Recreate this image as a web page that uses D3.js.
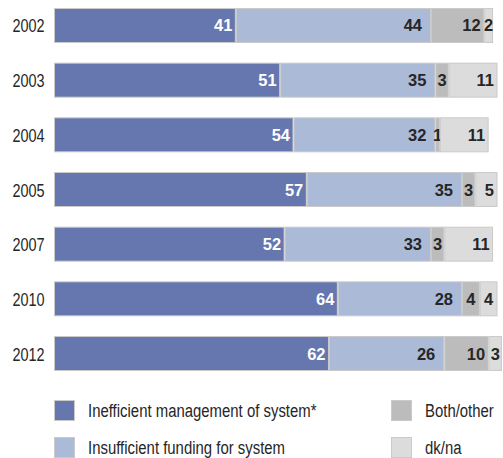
<!DOCTYPE html>
<html><head><meta charset="utf-8">
<script src="https://cdn.jsdelivr.net/npm/d3@7/dist/d3.min.js"></script>
<style>body{margin:0;background:#fff}svg{display:block}</style>
</head><body><svg id="c" width="503" height="458"></svg>
<script>
const years = ["2002","2003","2004","2005","2007","2010","2012"];
const seriesNames = ["Inefficient management of system*","Insufficient funding for system","Both/other","dk/na"];
const management = [41,51,54,57,52,64,62];
const funding    = [44,35,32,35,33,28,26];
const bothOther  = [12,3,1,3,3,4,10];
const dkna       = [2,11,11,5,11,4,3];
const colors = ["#6577ae","#abbad7","#bcbcbc","#dcdcdc"];

const svg = d3.select("#c");
const font = "'Liberation Sans',Arial,sans-serif";
const x = d3.scaleLinear().domain([0,100]).range([54,497.5]);
const y = d3.scaleBand().domain(years).range([8,371]).paddingInner(0.36).paddingOuter(0);

const rows = years.map((yr,i)=>({year:yr, vals:[management[i],funding[i],bothOther[i],dkna[i]]}));
const stack = d3.stack().keys([0,1,2,3]).value((d,k)=>d.vals[k]);
const layers = stack(rows);

// condensed-looking text: translate then horizontal squeeze
function narrow(sel, sx){
  sel.attr("transform", function(){
    const tx=+this.getAttribute("data-x"), ty=+this.getAttribute("data-y");
    return `translate(${tx},${ty}) scale(${sx},1)`;
  });
}

layers.forEach((layer,k)=>{
  const g = svg.append("g");
  g.selectAll("rect").data(layer).join("rect")
    .attr("x",d=>x(d[0])+0.5).attr("y",d=>y(d.data.year)+0.5)
    .attr("width",d=>x(d[1])-x(d[0])-1).attr("height",y.bandwidth()-1)
    .attr("fill",colors[k]).attr("stroke","#cacaca").attr("stroke-width",1);
  g.selectAll("text").data(layer).join("text")
    .attr("data-x",d=>{const v=d[1]-d[0]; return v<=4 ? (x(d[0])+x(d[1]))/2 : x(d[1])-(k===1?9:3.5);})
    .attr("data-y",d=>y(d.data.year)+y.bandwidth()/2+6)
    .attr("text-anchor",d=>(d[1]-d[0])<=4?"middle":"end")
    .attr("font-family",font).attr("font-weight","bold").attr("font-size",17)
    .attr("fill",k===0?"#ffffff":"#262626")
    .text(d=>d[1]-d[0])
    .call(narrow,0.97);
});

svg.append("g").selectAll("text").data(years).join("text")
  .attr("data-x",44.5).attr("data-y",d=>y(d)+y.bandwidth()/2+7)
  .attr("text-anchor","end").attr("font-family",font).attr("font-size",19)
  .attr("fill","#262626").text(d=>d)
  .call(narrow,0.76);

const legendPos = [[54,400],[54,437],[391,400],[391,437]];
const lg = svg.append("g");
seriesNames.forEach((n,k)=>{
  const [lx,ly]=legendPos[k];
  lg.append("rect").attr("x",lx+0.5).attr("y",ly+0.5).attr("width",20).attr("height",20)
    .attr("fill",colors[k]).attr("stroke","#cacaca");
  lg.append("text").attr("data-x",lx+34).attr("data-y",ly+17).attr("font-family",font)
    .attr("font-size",19).attr("fill","#262626").text(n).call(narrow,0.785);
});
</script></body></html>
